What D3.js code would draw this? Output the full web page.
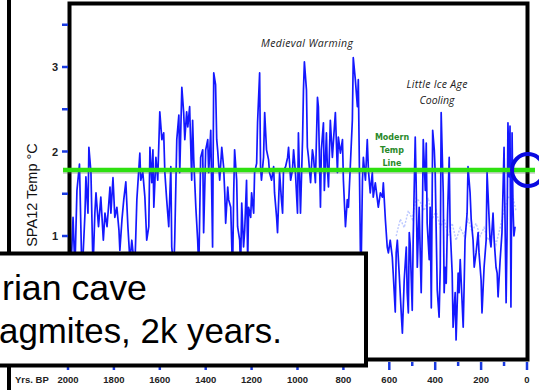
<!DOCTYPE html>
<html><head><meta charset="utf-8">
<script src="https://cdn.jsdelivr.net/npm/d3@7"></script>
<style>body{margin:0;background:#fff}svg{display:block}</style>
</head><body><svg id="c" width="539" height="390"></svg>
<script>
// ---- data (years BP, SPA12 temperature °C) ----
const years = [
1987,1978,1970,1961,1950,1939,1926,1922,1913,1909,
1900,1891,1883,1878,1867,1857,1846,1839,1830,1817,
1813,1804,1796,1787,1778,1774,1765,1757,1748,1739,
1730,1722,1709,1700,1687,1683,1674,1665,1657,1648,
1643,1635,1630,1626,1617,1609,1600,1591,1583,1578,
1570,1561,1552,1548,1539,1535,1526,1517,1513,1504,
1496,1491,1483,1478,1470,1461,1457,1452,1443,1435,
1430,1422,1413,1409,1400,1391,1387,1378,1370,1365,
1357,1352,1348,1339,1330,1322,1317,1313,1304,1300,
1291,1283,1278,1274,1265,1261,1252,1248,1243,1235,
1230,1222,1217,1213,1204,1200,1191,1187,1178,1174,
1165,1161,1157,1148,1143,1135,1126,1122,1113,1104,
1100,1091,1087,1078,1070,1065,1061,1052,1043,1039,
1030,1022,1017,1009,1000,996,987,978,974,970,
961,957,952,943,935,930,922,913,909,900,
896,887,883,874,870,865,857,848,843,835,
826,822,813,804,800,791,783,778,770,761,
757,748,739,735,730,726,722,717,713,704,
696,691,683,674,670,661,652,648,639,630,
626,617,609,604,596,587,583,574,570,565,
557,548,543,535,526,522,517,513,509,500,
496,487,483,478,470,461,457,452,443,439,
435,426,422,417,411,404,400,396,391,383,
378,374,365,361,357,352,346,339,335,326,
322,313,309,300,296,291,287,278,274,270,
261,257,248,243,235,230,222,213,209,200,
196,187,178,174,170,161,157,148,143,135,
130,126,117,109,100,91,87,83,78,74,
70,65,61,57,52];
const temps = [
0.6,1.22,0.6,1.54,1.85,0.5,1.27,1.70,1.27,2.05,
1.75,0.6,1.27,1.51,1.11,1.46,0.95,1.27,1.11,1.58,
1.27,1.69,1.22,1.34,1.07,0.83,1.19,1.43,1.64,1.11,
0.7,0.95,0.6,1.43,1.98,1.66,1.75,1.46,0.95,1.11,
2.05,1.63,2.02,1.34,1.93,1.66,2.47,2.14,2.22,1.75,
1.43,1.11,1.82,0.87,0.6,0.95,2.14,2.43,1.75,2.76,
2.46,2.14,2.47,2.29,2.53,1.66,2.37,1.90,1.34,0.95,
0.6,1.93,2.02,1.04,2.02,2.14,1.75,2.25,0.87,2.93,
2.79,2.14,2.02,1.66,2.05,1.82,1.51,1.15,1.58,1.43,
1.34,0.55,1.51,2.02,1.66,1.11,0.95,0.6,1.39,0.87,
1.07,1.66,0.7,1.34,1.22,1.51,1.27,1.75,1.86,2.34,
2.93,1.82,1.66,1.93,2.46,2.02,1.90,1.75,1.66,1.82,
1.51,1.22,1.04,1.75,1.43,1.27,1.78,1.82,1.93,2.05,
1.66,1.78,2.02,1.75,1.27,2.22,1.27,2.14,2.73,3.06,
2.73,2.05,1.93,1.63,2.02,1.93,1.63,2.64,2.53,1.34,
2.02,2.34,1.54,2.22,1.82,1.58,2.37,1.93,2.14,2.46,
1.75,2.17,1.98,2.14,1.66,1.11,1.43,1.34,1.82,2.37,
3.11,2.85,2.53,2.85,1.75,0.83,0.75,1.66,1.93,1.66,
2.14,1.78,1.51,1.75,1.46,1.63,1.43,1.34,1.51,1.46,
1.63,1.19,0.87,0.80,0.95,0.75,0.56,0.10,0.80,0.95,
0.56,0.09,-0.15,0.48,0.87,0.33,0.09,1.04,0.9,0.12,
0.95,2.17,1.63,0.63,1.34,0.33,0.95,2.14,1.54,2.10,
1.15,0.72,1.34,0.15,2.25,2.02,1.75,1.11,0.36,0.04,
0.63,2.46,1.51,0.33,0.63,0.44,1.27,1.93,1.11,0.56,
-0.08,0.33,-0.23,0.56,0.33,0.72,0.48,-0.08,0.40,0.95,
1.27,1.82,1.51,1.19,0.95,0.63,0.80,1.04,0.80,0.48,
0.09,0.63,0.95,1.75,1.51,0.95,0.87,1.27,0.95,0.63,
0.56,0.28,0.72,1.04,2.05,0.21,1.0,2.34,1.7,2.3,
0.16,2.22,1.34,1.0,1.11];
// faint secondary trace (light blue), Little Ice Age section
const faintYears = [570,552,535,517,500,483,465,448,430,413,396,378,361,343,326,309,291,274,257,239,222,204,187,170,152,135,117,100,83,65,48];
const faintTemps = [1.0,1.2,1.1,1.3,1.2,1.45,1.4,1.3,1.45,1.2,1.3,1.1,1.2,1.0,1.15,0.95,1.1,1.0,1.2,1.05,1.15,1.0,1.1,0.95,1.05,0.9,1.1,1.3,1.45,1.5,1.3];
const modernTemp = 1.78;
const yMajorTicks = [1, 2, 3];
const yTickLabels = ["1", "2", "3"];
const yMinorTicks = [1.5, 2.5, 3.5];
const xMajorTicks = [2000,1800,1600,1400,1200,1000,800,600,400,200,0];
const xTickLabels = ["2000","1800","1600","1400","1200","1000","800","600","400","200","0"];
const xMinorTicks = [1900,1700,1500,1300,1100,900,700,500,300,100];
const yAxisTitle = "SPA12 Temp °C";
const xAxisTitle = "Yrs. BP";
const captionLines = ["rian cave", "agmites, 2k years."];

const svg = d3.select("#c");
const x = d3.scaleLinear().domain([2000, 0]).range([68, 527]);
const y = d3.scaleLinear().domain([1, 3]).range([236, 67]);
const blue = "#1418ff";

svg.append("rect").attr("width",539).attr("height",390).attr("fill","#fff");
// outer slide border line
svg.append("line").attr("x1",9).attr("x2",9).attr("y1",0).attr("y2",390)
  .attr("stroke","#000").attr("stroke-width",4);

// y axis title
svg.append("text").attr("transform","translate(37,195) rotate(-90)")
  .attr("text-anchor","middle").attr("font-family","Liberation Sans, Arial, sans-serif")
  .attr("font-size",14.5).attr("fill","#111").text(yAxisTitle);

// clip
svg.append("clipPath").attr("id","pc").append("rect")
  .attr("x",71).attr("y",5).attr("width",455).attr("height",353);

const g = svg.append("g").attr("clip-path","url(#pc)");
g.append("path").datum(faintYears.map((d,i)=>[d,faintTemps[i]]))
  .attr("fill","none").attr("stroke","#9fb0ff").attr("stroke-width",1.4)
  .attr("stroke-dasharray","2,1.5").attr("opacity",0.7)
  .attr("d", d3.line().x(d=>x(d[0])).y(d=>y(d[1])));
g.append("path").datum(years.map((d,i)=>[d,temps[i]]))
  .attr("fill","none").attr("stroke",blue).attr("stroke-width",1.7)
  .attr("stroke-linejoin","round")
  .attr("d", d3.line().x(d=>x(d[0])).y(d=>y(d[1])));

// frame
svg.append("rect").attr("x",69.5).attr("y",3.5).attr("width",458).attr("height",356)
  .attr("fill","none").attr("stroke","#000").attr("stroke-width",4);

// y ticks
svg.selectAll(".yt").data(yMajorTicks.concat(yMinorTicks)).join("line")
  .attr("x1",62).attr("x2",68).attr("y1",d=>y(d)).attr("y2",d=>y(d))
  .attr("stroke","#1a3ae0").attr("stroke-width",2.5);
svg.selectAll(".yl").data(yMajorTicks).join("text")
  .attr("x",58).attr("y",d=>y(d)+4).attr("text-anchor","end")
  .attr("font-family","Liberation Sans, Arial, sans-serif").attr("font-weight","bold")
  .attr("font-size",11).attr("fill","#222").text((d,i)=>yTickLabels[i]);

// x ticks
svg.selectAll(".xt").data(xMajorTicks).join("line")
  .attr("x1",d=>x(d)).attr("x2",d=>x(d)).attr("y1",362).attr("y2",370)
  .attr("stroke","#1a3ae0").attr("stroke-width",2.5);
svg.selectAll(".xm").data(xMinorTicks).join("line")
  .attr("x1",d=>x(d)).attr("x2",d=>x(d)).attr("y1",362).attr("y2",366)
  .attr("stroke","#1a3ae0").attr("stroke-width",2.5);
svg.selectAll(".xl").data(xMajorTicks).join("text")
  .attr("x",d=>x(d)).attr("y",383).attr("text-anchor","middle")
  .attr("font-family","Liberation Sans, Arial, sans-serif").attr("font-weight","bold")
  .attr("font-size",9.5).attr("fill","#222").text((d,i)=>xTickLabels[i]);
svg.append("text").attr("x",15).attr("y",383)
  .attr("font-family","Liberation Sans, Arial, sans-serif").attr("font-weight","bold")
  .attr("font-size",9.5).attr("fill","#222").text(xAxisTitle);

// modern temp line
svg.append("line").attr("x1",x(2000)-5).attr("x2",x(0)+8)
  .attr("y1",y(modernTemp)+1.5).attr("y2",y(modernTemp)+1.5)
  .attr("stroke","#555").attr("stroke-width",5).attr("opacity",0.25);
svg.append("line").attr("x1",x(2000)-5).attr("x2",x(0)+8)
  .attr("y1",y(modernTemp)).attr("y2",y(modernTemp))
  .attr("stroke","#2ee010").attr("stroke-width",4.5);

// annotations
const ann = svg.append("g").attr("font-family","Open Sans, Noto Sans, sans-serif")
  .attr("font-style","italic").attr("font-size",10.5).attr("fill","#222").attr("text-anchor","middle");
ann.append("text").attr("x",307).attr("y",47).attr("textLength",92).text("Medieval Warming");
ann.append("text").attr("x",437).attr("y",88).attr("textLength",61).text("Little Ice Age");
ann.append("text").attr("x",437).attr("y",104).text("Cooling");
const mt = svg.append("g").attr("font-family","DejaVu Sans, sans-serif").attr("font-weight","bold")
  .attr("font-size",8).attr("fill","#2a8a2a").attr("text-anchor","middle");
mt.append("text").attr("x",392).attr("y",140).text("Modern");
mt.append("text").attr("x",392).attr("y",153).text("Temp");
mt.append("text").attr("x",392).attr("y",165.5).text("Line");

// caption box
svg.append("rect").attr("x",-5).attr("y",253.5).attr("width",371).attr("height",112)
  .attr("fill","#fff").attr("stroke","#000").attr("stroke-width",4);
const cap = svg.append("g").attr("font-family","Liberation Sans, Arial, sans-serif")
  .attr("font-size",35).attr("fill","#000");
cap.append("text").attr("x",2).attr("y",300).attr("textLength",145)
  .attr("lengthAdjust","spacingAndGlyphs").text(captionLines[0]);
cap.append("text").attr("x",-1).attr("y",343).attr("textLength",283)
  .attr("lengthAdjust","spacingAndGlyphs").text(captionLines[1]);

// highlight circle at present
svg.append("circle").attr("cx",x(0)+1).attr("cy",y(modernTemp)).attr("r",16)
  .attr("fill","none").attr("stroke","#0a0ae0").attr("stroke-width",4);
</script></body></html>
